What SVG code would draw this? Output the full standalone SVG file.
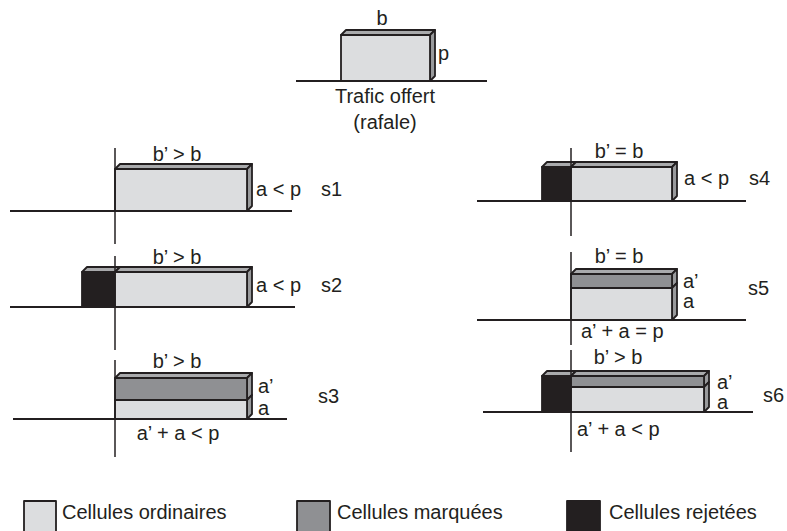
<svg xmlns="http://www.w3.org/2000/svg" width="787" height="531" viewBox="0 0 787 531">
<style>
.t{font-family:"Liberation Sans",Arial,sans-serif;font-size:20px;fill:#231f20}
.m{text-anchor:middle}
.o{stroke:#231f20;stroke-width:1.8;stroke-linejoin:round}
.lt{fill:#dcdddf}
.mk{fill:#8f9093}
.bk{fill:#231f20}
.tp{fill:#a9aaac}
.sd{fill:#999a9c}
.gl{stroke:#231f20;stroke-width:2;fill:none}
.vl{stroke:#231f20;stroke-width:1.5;fill:none}
</style>
<rect width="787" height="531" fill="#fff"/>

<g id="offert">
<line class="gl" x1="296" y1="81" x2="487" y2="81"/>
<polygon class="o tp" points="341,35 346,30 435,30 430,35"/>
<polygon class="o sd" points="430,35 435,30 435,76 430,81"/>
<rect class="o lt" x="341" y="35" width="89" height="46"/>
<text class="t m" x="382" y="25">b</text>
<text class="t" x="438" y="60">p</text>
<text class="t m" x="385" y="103">Trafic offert</text>
<text class="t m" x="385" y="129">(rafale)</text>
</g>

<g id="s1">
<line class="gl" x1="10" y1="211" x2="292" y2="211"/>
<polygon class="o tp" points="115,169 120,164 252,164 247,169"/>
<polygon class="o sd" points="247,169 252,164 252,206 247,211"/>
<rect class="o lt" x="115" y="169" width="132" height="42"/>
<text class="t m" x="177" y="161">b’ &gt; b</text>
<text class="t" x="256" y="196">a &lt; p</text>
<text class="t" x="321" y="196">s1</text>
</g>

<g id="s2">
<line class="gl" x1="10" y1="307" x2="295" y2="307"/>
<polygon class="o tp" points="82,272 87,267 120,267 115,272"/>
<polygon class="o tp" points="115,272 120,267 252,267 247,272"/>
<polygon class="o sd" points="247,272 252,267 252,302 247,307"/>
<rect class="o bk" x="82" y="272" width="33" height="35"/>
<rect class="o lt" x="115" y="272" width="132" height="35"/>
<text class="t m" x="177" y="264">b’ &gt; b</text>
<text class="t" x="256" y="292">a &lt; p</text>
<text class="t" x="321" y="292">s2</text>
</g>

<g id="s3">
<line class="gl" x1="13" y1="419" x2="287" y2="419"/>
<polygon class="o tp" points="115,378 120,373 252,373 247,378"/>
<polygon class="o sd" points="247,378 252,373 252,395 247,400"/>
<polygon class="o sd" points="247,400 252,395 252,414 247,419"/>
<rect class="o mk" x="115" y="378" width="132" height="22"/>
<rect class="o lt" x="115" y="400" width="132" height="19"/>
<text class="t m" x="177" y="368">b’ &gt; b</text>
<text class="t" x="258" y="393">a’</text>
<text class="t" x="258" y="415">a</text>
<text class="t" x="318" y="403">s3</text>
<text class="t m" x="178" y="440">a’ + a &lt; p</text>
</g>

<g id="s4">
<line class="gl" x1="477" y1="201" x2="746" y2="201"/>
<polygon class="o tp" points="542,167 547,162 576,162 571,167"/>
<polygon class="o tp" points="571,167 576,162 677,162 672,167"/>
<polygon class="o sd" points="672,167 677,162 677,196 672,201"/>
<rect class="o bk" x="542" y="167" width="29" height="34"/>
<rect class="o lt" x="571" y="167" width="101" height="34"/>
<text class="t m" x="619" y="158">b’ = b</text>
<text class="t" x="684" y="185">a &lt; p</text>
<text class="t" x="749" y="185">s4</text>
</g>

<g id="s5">
<line class="gl" x1="477" y1="320" x2="746" y2="320"/>
<polygon class="o tp" points="571,274 576,269 677,269 672,274"/>
<polygon class="o sd" points="672,274 677,269 677,283 672,288"/>
<polygon class="o sd" points="672,288 677,283 677,315 672,320"/>
<rect class="o mk" x="571" y="274" width="101" height="14"/>
<rect class="o lt" x="571" y="288" width="101" height="32"/>
<text class="t m" x="619" y="263">b’ = b</text>
<text class="t" x="683" y="288">a’</text>
<text class="t" x="683" y="308">a</text>
<text class="t" x="748" y="295">s5</text>
<text class="t" x="581" y="338">a’ + a = p</text>
</g>

<g id="s6">
<line class="gl" x1="483" y1="412" x2="753" y2="412"/>
<polygon class="o tp" points="542,376 547,371 576,371 571,376"/>
<polygon class="o tp" points="571,376 576,371 709,371 704,376"/>
<polygon class="o sd" points="704,376 709,371 709,382 704,387"/>
<polygon class="o sd" points="704,387 709,382 709,407 704,412"/>
<rect class="o bk" x="542" y="376" width="29" height="36"/>
<rect class="o mk" x="571" y="376" width="133" height="11"/>
<rect class="o lt" x="571" y="387" width="133" height="25"/>
<text class="t m" x="618" y="364">b’ &gt; b</text>
<text class="t" x="717" y="389">a’</text>
<text class="t" x="717" y="409">a</text>
<text class="t" x="763" y="402">s6</text>
<text class="t" x="577" y="436">a’ + a &lt; p</text>
</g>

<g id="axes">
<line class="vl" x1="115" y1="148" x2="115" y2="244"/>
<line class="vl" x1="115" y1="256" x2="115" y2="350"/>
<line class="vl" x1="115" y1="360" x2="115" y2="457"/>
<line class="vl" x1="571" y1="148" x2="571" y2="236"/>
<line class="vl" x1="571" y1="252" x2="571" y2="345"/>
<line class="vl" x1="571" y1="350" x2="571" y2="452"/>
</g>

<g id="legend">
<rect class="o lt" x="24" y="501" width="32" height="36"/>
<text class="t" x="62" y="519">Cellules ordinaires</text>
<rect class="o mk" x="297" y="501" width="33" height="36"/>
<text class="t" x="337" y="519">Cellules marquées</text>
<rect class="o bk" x="567" y="501" width="33" height="36"/>
<text class="t" x="609" y="519">Cellules rejetées</text>
</g>
</svg>
